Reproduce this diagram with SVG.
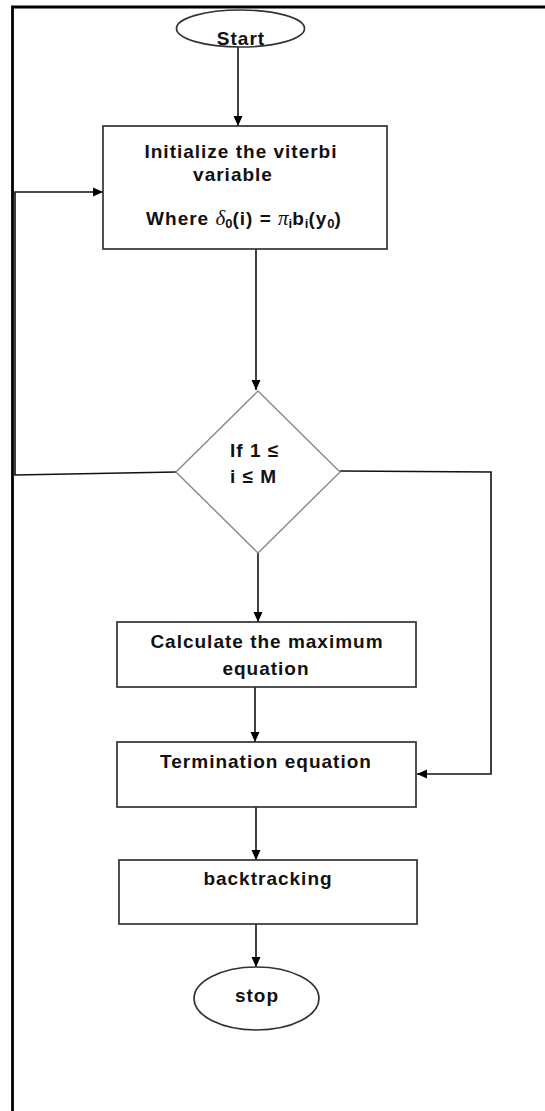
<svg xmlns="http://www.w3.org/2000/svg" width="545" height="1111" viewBox="0 0 545 1111">
  <defs>
    <marker id="arrow" markerWidth="12" markerHeight="12" refX="10" refY="5" orient="auto" markerUnits="userSpaceOnUse">
      <path d="M0,0.5 L10,5 L0,9.5 Z" fill="#000"/>
    </marker>
  </defs>
  <style>
    .frame { fill: none; stroke: #000; stroke-width: 2.8; }
    .box { fill: #fff; stroke: #333; stroke-width: 1.7; }
    .dec { fill: #fff; stroke: #888; stroke-width: 1.4; }
    .link { fill: none; stroke: #111; stroke-width: 1.6; marker-end: url(#arrow); }
    .lbl { font-family: "Liberation Sans", Arial, sans-serif; font-size: 19px; font-weight: bold; fill: #111; letter-spacing: 1px; text-anchor: middle; }
    .math { font-family: "Liberation Serif", "Times New Roman", serif; font-style: italic; font-weight: normal; font-size: 21px; letter-spacing: 0; }
    .sub { font-size: 13px; letter-spacing: 0; }
  </style>

  <rect width="545" height="1111" fill="#fff"/>
  <!-- page frame: top and left rules -->
  <path class="frame" d="M12.5,1111 L12.5,7 L545,7"/>

  <g id="connectors">
    <line class="link" x1="238" y1="47" x2="238" y2="126"/>
    <line class="link" x1="256" y1="249" x2="256" y2="390"/>
    <line class="link" x1="258" y1="553" x2="258" y2="622"/>
    <line class="link" x1="255" y1="687" x2="255" y2="742"/>
    <line class="link" x1="256" y1="807" x2="256" y2="860"/>
    <line class="link" x1="256" y1="924" x2="256" y2="967"/>
    <!-- loop back to initialisation -->
    <path class="link" d="M176,472 L15,475 L15,192 L103,192"/>
    <!-- skip to termination -->
    <path class="link" d="M340,471 L491,472 L491,774 L417,774"/>
  </g>

  <g id="start">
    <ellipse class="box" cx="240.5" cy="28.5" rx="64" ry="18.5"/>
    <text class="lbl" x="241" y="45">Start</text>
  </g>

  <g id="init">
    <rect class="box" x="103" y="126" width="284" height="123"/>
    <text class="lbl" x="241" y="158">Initialize the viterbi</text>
    <text class="lbl" x="233" y="181">variable</text>
    <text class="lbl" x="244" y="225">Where <tspan class="math">δ</tspan><tspan class="sub" dy="3">0</tspan><tspan dy="-3">(i) = </tspan><tspan class="math">π</tspan><tspan class="sub" dy="3">i</tspan><tspan dy="-3">b</tspan><tspan class="sub" dy="3">i</tspan><tspan dy="-3">(y</tspan><tspan class="sub" dy="3">0</tspan><tspan dy="-3">)</tspan></text>
  </g>

  <g id="condition">
    <polygon class="dec" points="258,391 340,472 258,553 176,472"/>
    <text class="lbl" x="230" y="457" style="text-anchor:start">If 1 ≤</text>
    <text class="lbl" x="230" y="483" style="text-anchor:start">i ≤ M</text>
  </g>

  <g id="maximum">
    <rect class="box" x="117" y="622" width="299" height="65"/>
    <text class="lbl" x="267" y="648">Calculate the maximum</text>
    <text class="lbl" x="266" y="675">equation</text>
  </g>

  <g id="termination">
    <rect class="box" x="117" y="742" width="299" height="65"/>
    <text class="lbl" x="266" y="768">Termination equation</text>
  </g>

  <g id="backtracking">
    <rect class="box" x="119" y="860" width="298" height="64"/>
    <text class="lbl" x="268" y="885">backtracking</text>
  </g>

  <g id="stop">
    <ellipse class="box" cx="256.5" cy="998.5" rx="62.5" ry="31.5"/>
    <text class="lbl" x="257" y="1002">stop</text>
  </g>
</svg>
